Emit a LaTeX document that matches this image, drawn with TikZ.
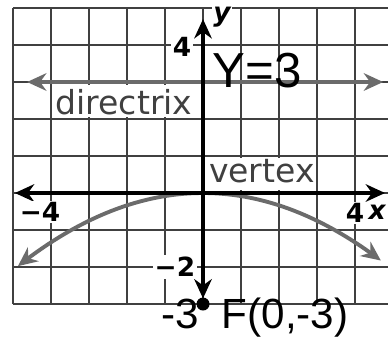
\documentclass[tikz,border=0pt]{standalone}
\usepackage{fontspec}
\setmainfont{DejaVu Sans}
\newfontfamily\hand{Liberation Sans}
\usetikzlibrary{arrows.meta}
\begin{document}
\begin{tikzpicture}[x=0.38cm,y=0.37cm,
  gridline/.style={black!75,line width=0.65pt},
  tips/.style={{Stealth[length=5.5pt,width=5pt]}-{Stealth[length=5.5pt,width=5pt]}},
  axisline/.style={black,line width=0.9pt,tips},
  grayline/.style={black!58,line width=1.1pt,tips},
  lab/.style={font=\fontsize{7.5}{8}\selectfont\bfseries, fill=white, inner sep=0.5pt},
  word/.style={font=\fontsize{9.4}{10}\selectfont, text=black!75, inner sep=0pt},
  hw/.style={font=\hand\fontsize{12}{13}\selectfont, inner sep=0pt}]
\useasboundingbox (-5.342,-3.999) rectangle (4.868,5.216);
\fill[white] (-5.342,-3.999) rectangle (4.868,5.216);
\foreach \i in {-5,...,4} \draw[gridline] (\i,-3) -- (\i,5);
\foreach \j in {-3,...,5} \draw[gridline] (-5,\j) -- (4.868,\j);
% label boxes
\fill[white] (-3.97,2.06) rectangle (-0.22,2.93);
\node[word] (dir) at (-2.08,2.45) {directrix};
\fill[white] (0.26,0.08) rectangle (2.89,0.95);
\node[word] (vtx) at (1.55,0.6) {vertex};
% directrix and parabola
\draw[grayline] (-4.63,3) -- (4.74,3);
\draw[grayline, domain=-4.87:4.68, samples=60] plot (\x,{-\x*\x/12});
% axes
\draw[axisline] (-4.95,0) -- (4.79,0);
\draw[axisline] (0,-2.85) -- (0,4.7);
\node[circle,fill,inner sep=0,minimum size=0.13cm] (F) at (0,-3) {};
% axis labels
\node[lab] (ylab) at (0.5,4.76) {\itshape y};
\node[lab] (y4) at (-0.55,3.95) {4};
\node[lab] (xm4) at (-4.29,-0.51) {−4};
\node[lab] (x4) at (4.0,-0.54) {4};
\node[lab] (xlab) at (4.58,-0.51) {\itshape x};
\node[lab] (ym2) at (-0.74,-2.0) {−2};
% handwritten notes
\node[hw,font=\hand\fontsize{14}{15}\selectfont] (dirlab) at (1.42,3.32) {Y=3};
\node[hw] (m3) at (-0.6,-3.27) {-3};
\node[hw] (Flab) at (2.16,-3.38) {F(0,-3)};
\end{tikzpicture}
\end{document}
